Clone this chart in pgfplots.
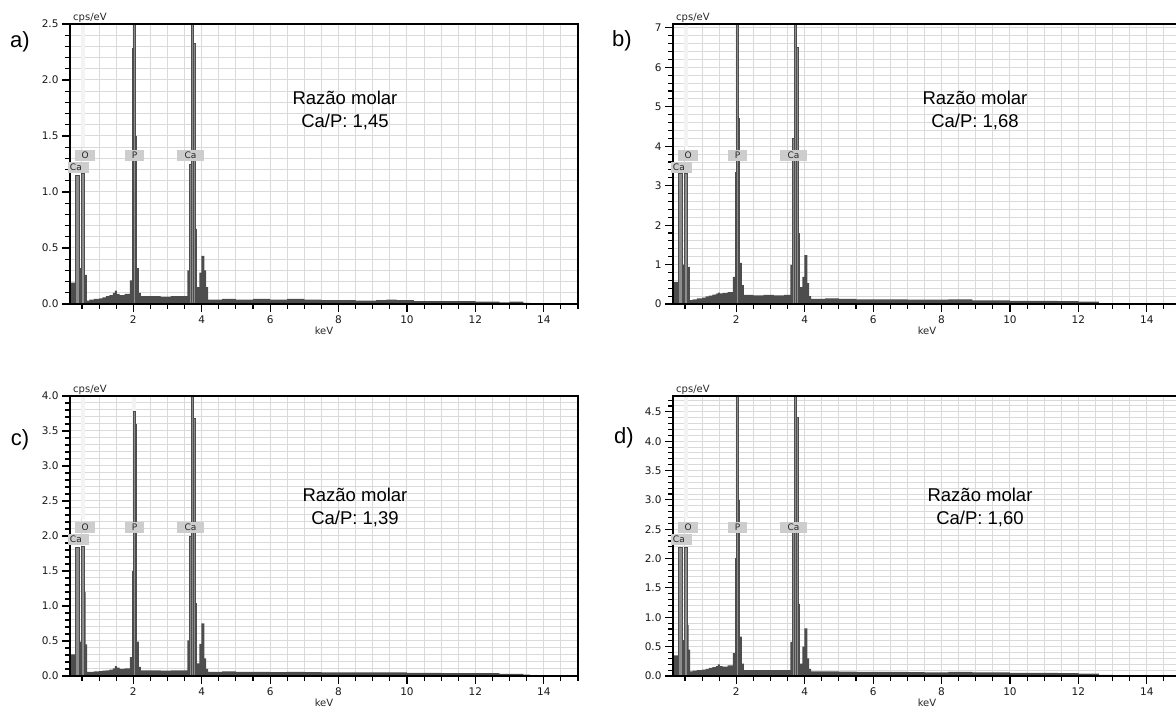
\documentclass[border=0pt]{standalone}
\usepackage{fontspec}
\setmainfont{Liberation Sans}
\newfontfamily\dv{DejaVu Sans}
\usepackage{pgfplots}
\pgfplotsset{compat=1.18}
\usepackage{pgfplotstable}

\definecolor{specgray}{HTML}{4D4D4D}
\definecolor{pkgray}{HTML}{8C8C8C}
\definecolor{gridgray}{HTML}{DADADA}
\definecolor{boxgray}{HTML}{CDCDCD}
\definecolor{markgray}{HTML}{F3F3F3}

% EDS spectra, counts in cps/eV, energy in keV (peaks are added separately)
\pgfplotstableread{
x y
0.15 0.19
0.30 0.19
0.42 0.32
0.48 0.32
0.58 0.26
0.64 0.03
0.72 0.04
0.85 0.045
1.00 0.05
1.10 0.06
1.20 0.07
1.30 0.08
1.40 0.10
1.46 0.12
1.52 0.09
1.60 0.08
1.75 0.09
1.90 0.21
1.96 0.21
2.10 0.32
2.16 0.10
2.22 0.07
2.50 0.07
2.80 0.065
3.10 0.07
3.40 0.07
3.58 0.30
3.64 0.30
3.80 0.67
3.86 0.15
3.93 0.28
3.99 0.43
4.08 0.30
4.13 0.15
4.19 0.04
4.60 0.045
5.00 0.04
5.50 0.045
6.00 0.04
6.50 0.045
7.00 0.04
7.50 0.035
8.00 0.035
8.50 0.03
9.10 0.035
9.40 0.04
9.70 0.035
10.2 0.025
11.0 0.025
12.0 0.02
12.7 0.015
13.0 0.02
13.4 0.01
13.6 0.003
15.0 0
}\specA

\pgfplotstableread{
x y
0.15 0.56
0.30 0.56
0.42 1.0
0.48 1.0
0.58 0.94
0.64 0.10
0.72 0.12
0.85 0.14
1.00 0.16
1.10 0.19
1.20 0.21
1.30 0.24
1.40 0.26
1.46 0.29
1.52 0.27
1.60 0.28
1.75 0.30
1.90 0.69
1.96 0.69
2.10 1.04
2.16 0.48
2.22 0.23
2.50 0.22
2.80 0.23
3.10 0.22
3.40 0.23
3.58 0.99
3.64 0.99
3.80 1.80
3.86 0.43
3.93 0.69
3.99 1.24
4.08 0.53
4.13 0.20
4.19 0.13
4.60 0.14
5.00 0.13
5.50 0.12
6.00 0.12
6.50 0.12
7.00 0.11
7.50 0.11
8.20 0.12
8.90 0.09
10.0 0.08
11.4 0.075
12.0 0.06
12.6 0.02
13.0 0
15.0 0
}\specB

\pgfplotstableread{
x y
0.15 0.31
0.30 0.31
0.42 0.49
0.48 0.49
0.58 1.2
0.61 0.45
0.65 0.06
0.72 0.06
0.85 0.065
1.00 0.07
1.10 0.075
1.20 0.08
1.30 0.09
1.40 0.11
1.46 0.14
1.52 0.12
1.60 0.10
1.75 0.11
1.90 0.27
1.96 0.27
2.10 0.49
2.16 0.13
2.22 0.08
2.50 0.08
2.80 0.075
3.10 0.08
3.40 0.08
3.58 0.51
3.64 0.51
3.80 1.04
3.86 0.18
3.93 0.46
3.99 0.75
4.08 0.25
4.13 0.10
4.19 0.06
4.60 0.065
5.00 0.06
5.50 0.06
6.00 0.055
6.50 0.06
7.00 0.055
7.50 0.05
8.00 0.05
9.00 0.05
10.0 0.045
11.0 0.04
12.0 0.04
12.7 0.03
13.4 0.02
13.6 0
15.0 0
}\specC

\pgfplotstableread{
x y
0.15 0.35
0.30 0.35
0.42 0.61
0.48 0.61
0.58 0.87
0.61 0.45
0.65 0.08
0.72 0.09
0.85 0.10
1.00 0.11
1.10 0.12
1.20 0.14
1.30 0.15
1.40 0.17
1.46 0.20
1.52 0.17
1.60 0.16
1.75 0.18
1.90 0.39
1.96 0.39
2.10 0.67
2.16 0.21
2.22 0.10
2.50 0.10
2.80 0.10
3.10 0.10
3.40 0.10
3.58 0.58
3.64 0.58
3.80 1.23
3.86 0.21
3.93 0.50
3.99 0.81
4.08 0.30
4.13 0.12
4.19 0.08
4.60 0.08
5.00 0.075
5.50 0.07
6.00 0.07
6.50 0.07
7.00 0.065
7.50 0.06
8.20 0.07
8.90 0.06
10.0 0.055
11.4 0.05
12.0 0.04
12.6 0.02
13.0 0
15.0 0
}\specD

\pgfplotsset{
  eds/.style={
    scale only axis, width=508pt, height=280pt,
    xmin=0.15, xmax=15, ymin=0,
    xtick={2,4,...,14}, minor xtick={0.5,1,...,15},
    grid=both, grid style={gridgray, line width=1pt},
    major grid style={gridgray, line width=1pt},
    tick align=outside, xtick pos=bottom, ytick pos=left,
    major tick length=8pt, minor tick length=5pt,
    every tick/.style={black, line width=1.1pt},
    axis line style={line width=1.4pt},
    clip mode=individual,
    every axis plot/.append style={mark=none},
    tick label style={font=\dv\fontsize{10.5}{12}\selectfont, text=black!90},
    /pgf/number format/assume math mode=true,
    yticklabel style={/pgf/number format/.cd, fixed, fixed zerofill, precision=1},
  },
  spec/.style={const plot, fill=specgray, draw=none},
  pk/.style={fill=pkgray, draw=specgray, line width=0.7pt},
}
\tikzset{
  elbox/.style={fill=boxgray, inner sep=0pt, minimum height=11pt,
    font=\dv\fontsize{9}{9}\selectfont, text=black!85},
}

% light marker lines at the element positions
\newcommand\edsmarks{%
  \draw[markgray, line width=4pt] ({axis cs:0.53,0} |- {rel axis cs:0,0.56}) -- ({axis cs:0.53,0} |- {rel axis cs:0,0.995});
  \draw[markgray, line width=4pt] ({axis cs:2.03,0} |- {rel axis cs:0,0.56}) -- ({axis cs:2.03,0} |- {rel axis cs:0,0.995});
}
% element labels, border and axis captions
\newcommand\edslabels{%
  \draw[black, line width=1.4pt] (rel axis cs:0,0) rectangle (rel axis cs:1,1);
  \node[elbox, minimum width=20pt] at ({axis cs:0.59,0} |- {rel axis cs:0,0.532}) {O};
  \node[elbox, minimum width=19pt] at ({axis cs:2.04,0} |- {rel axis cs:0,0.532}) {P};
  \node[elbox, minimum width=27pt] at ({axis cs:3.67,0} |- {rel axis cs:0,0.532}) {Ca};
  \node[elbox, anchor=west, text width=18pt, inner xsep=1.5pt] at ({axis cs:0.10,0} |- {rel axis cs:0,0.489}) {Ca};
  \node[anchor=base west, inner sep=0pt, xshift=3pt, yshift=3pt, font=\dv\fontsize{10}{12}\selectfont, text=black!85] at (rel axis cs:0,1) {cps/eV};
  \node[anchor=center, inner sep=0pt, yshift=-27pt, font=\dv\fontsize{10}{12}\selectfont, text=black!85] at (rel axis cs:0.5,0) {keV};
}

\begin{document}
\begin{tikzpicture}[x=1pt, y=1pt]

% a)
\begin{axis}[eds, at={(70pt,407pt)}, anchor=south west,
  ymax=2.5, ytick={0,0.5,...,2.5}, minor ytick={0,0.1,...,2.5}]
\edsmarks
\addplot[spec] table {\specA} \closedcycle;
\addplot[pk] coordinates {(0.30,0) (0.30,1.15) (0.42,1.15) (0.42,0)};
\addplot[pk] coordinates {(0.48,0) (0.48,1.17) (0.58,1.17) (0.58,0)};
\addplot[pk] coordinates {(1.96,0) (1.96,2.28) (2.01,2.28) (2.01,0)};
\addplot[pk] coordinates {(2.01,0) (2.01,9) (2.06,9) (2.06,0)};
\addplot[pk] coordinates {(2.06,0) (2.06,1.5) (2.10,1.5) (2.10,0)};
\addplot[pk] coordinates {(3.64,0) (3.64,1.25) (3.69,1.25) (3.69,0)};
\addplot[pk] coordinates {(3.69,0) (3.69,9) (3.75,9) (3.75,0)};
\addplot[pk] coordinates {(3.75,0) (3.75,2.33) (3.80,2.33) (3.80,0)};
\edslabels
\end{axis}

% b)
\begin{axis}[eds, at={(673pt,407pt)}, anchor=south west,
  ymax=7.1, ytick={0,1,...,7}, minor ytick={0,0.2,...,7},
  yticklabel style={/pgf/number format/precision=0}]
\edsmarks
\addplot[spec] table {\specB} \closedcycle;
\addplot[pk] coordinates {(0.30,0) (0.30,3.3) (0.42,3.3) (0.42,0)};
\addplot[pk] coordinates {(0.48,0) (0.48,3.3) (0.58,3.3) (0.58,0)};
\addplot[pk] coordinates {(1.96,0) (1.96,3.35) (2.01,3.35) (2.01,0)};
\addplot[pk] coordinates {(2.01,0) (2.01,50) (2.06,50) (2.06,0)};
\addplot[pk] coordinates {(2.06,0) (2.06,4.7) (2.10,4.7) (2.10,0)};
\addplot[pk] coordinates {(3.64,0) (3.64,4.2) (3.69,4.2) (3.69,0)};
\addplot[pk] coordinates {(3.69,0) (3.69,50) (3.75,50) (3.75,0)};
\addplot[pk] coordinates {(3.75,0) (3.75,6.5) (3.80,6.5) (3.80,0)};
\edslabels
\end{axis}

% c)
\begin{axis}[eds, at={(70pt,35pt)}, anchor=south west,
  ymax=4.0, ytick={0,0.5,...,4}, minor ytick={0,0.1,...,4}]
\edsmarks
\addplot[spec] table {\specC} \closedcycle;
\addplot[pk] coordinates {(0.30,0) (0.30,1.84) (0.42,1.84) (0.42,0)};
\addplot[pk] coordinates {(0.48,0) (0.48,1.85) (0.58,1.85) (0.58,0)};
\addplot[pk] coordinates {(1.96,0) (1.96,1.5) (2.01,1.5) (2.01,0)};
\addplot[pk] coordinates {(2.01,0) (2.01,3.78) (2.06,3.78) (2.06,0)};
\addplot[pk] coordinates {(2.06,0) (2.06,3.6) (2.10,3.6) (2.10,0)};
\addplot[pk] coordinates {(3.64,0) (3.64,2.0) (3.69,2.0) (3.69,0)};
\addplot[pk] coordinates {(3.69,0) (3.69,50) (3.75,50) (3.75,0)};
\addplot[pk] coordinates {(3.75,0) (3.75,3.68) (3.80,3.68) (3.80,0)};
\edslabels
\end{axis}

% d)
\begin{axis}[eds, at={(673pt,35pt)}, anchor=south west,
  ymax=4.77, ytick={0,0.5,...,4.5}, minor ytick={0,0.1,...,4.75}]
\edsmarks
\addplot[spec] table {\specD} \closedcycle;
\addplot[pk] coordinates {(0.30,0) (0.30,2.2) (0.42,2.2) (0.42,0)};
\addplot[pk] coordinates {(0.48,0) (0.48,2.2) (0.58,2.2) (0.58,0)};
\addplot[pk] coordinates {(1.96,0) (1.96,2.0) (2.01,2.0) (2.01,0)};
\addplot[pk] coordinates {(2.01,0) (2.01,50) (2.06,50) (2.06,0)};
\addplot[pk] coordinates {(2.06,0) (2.06,3.0) (2.10,3.0) (2.10,0)};
\addplot[pk] coordinates {(3.64,0) (3.64,2.6) (3.69,2.6) (3.69,0)};
\addplot[pk] coordinates {(3.69,0) (3.69,50) (3.75,50) (3.75,0)};
\addplot[pk] coordinates {(3.75,0) (3.75,4.4) (3.80,4.4) (3.80,0)};
\edslabels
\end{axis}

% panel letters and molar ratios
\node[font=\fontsize{22}{24}\selectfont] at (20,669) {a)};
\node[font=\fontsize{22}{24}\selectfont] at (622,670) {b)};
\node[font=\fontsize{22}{24}\selectfont] at (20,271) {c)};
\node[font=\fontsize{22}{24}\selectfont] at (624,273) {d)};
\node[font=\fontsize{18.5}{23}\selectfont, align=center] at (345,601) {Razão molar\\Ca/P: 1,45};
\node[font=\fontsize{18.5}{23}\selectfont, align=center] at (975,601) {Razão molar\\Ca/P: 1,68};
\node[font=\fontsize{18.5}{23}\selectfont, align=center] at (355,204) {Razão molar\\Ca/P: 1,39};
\node[font=\fontsize{18.5}{23}\selectfont, align=center] at (980,204) {Razão molar\\Ca/P: 1,60};

\pgfresetboundingbox
\path (0,0) rectangle (1176,711);
\end{tikzpicture}
\end{document}
